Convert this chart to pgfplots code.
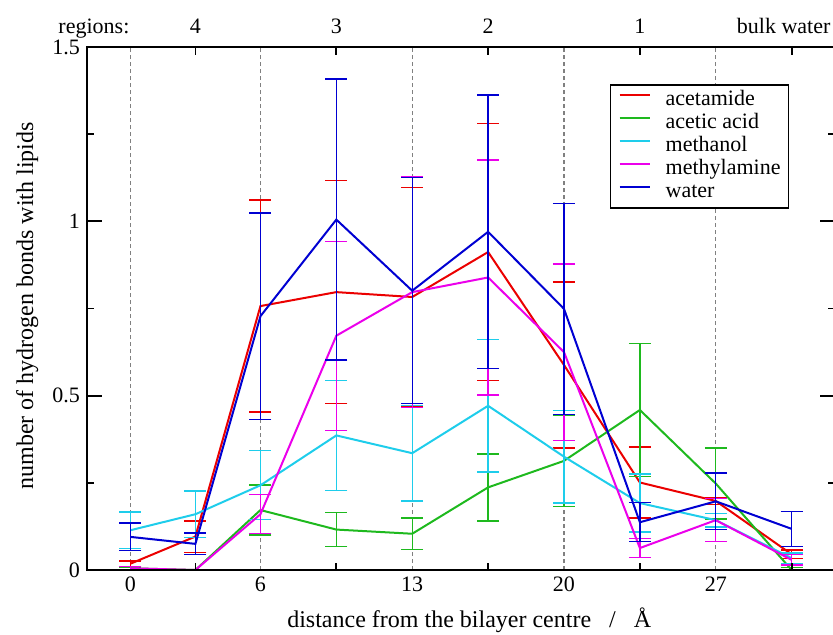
\documentclass[border=0pt]{standalone}
\usepackage{fontspec}
\setmainfont{Liberation Serif}
\usepackage{pgfplots}
\usepackage{pgfplotstable}
\pgfplotsset{compat=1.18}

\definecolor{cAcetamide}{RGB}{235,0,0}
\definecolor{cAcetic}{RGB}{30,185,30}
\definecolor{cMethanol}{RGB}{30,205,235}
\definecolor{cMethylamine}{RGB}{235,0,235}
\definecolor{cWater}{RGB}{0,0,210}

\newcommand\tickfont{\fontsize{11}{13}\selectfont}
\newcommand\labelfont{\fontsize{12}{14}\selectfont}

% distance (A), mean number of H-bonds, standard deviation
\pgfplotstableread{
x    y     e
0    0.018 0.008
3    0.096 0.045
6    0.757 0.304
9.5  0.797 0.320
13   0.783 0.315
16.5 0.912 0.368
20   0.588 0.238
23.5 0.251 0.102
27   0.198 0.010
30.5 0.045 0.012
}\acetamide

\pgfplotstableread{
x    y     e
0    0.005 0.003
3    0.000 0.000
6    0.172 0.072
9.5  0.116 0.049
13   0.104 0.045
16.5 0.237 0.096
20   0.313 0.131
23.5 0.459 0.190
27   0.248 0.102
30.5 0.000 0.008
}\aceticacid

\pgfplotstableread{
x    y     e
0    0.114 0.052
3    0.160 0.067
6    0.243 0.099
9.5  0.386 0.158
13   0.335 0.137
16.5 0.471 0.190
20   0.325 0.133
23.5 0.192 0.083
27   0.143 0.020
30.5 0.034 0.015
}\methanol

\pgfplotstableread{
x    y     e
0    0.005 0.005
3    0.000 0.000
6    0.160 0.056
9.5  0.672 0.271
13   0.797 0.330
16.5 0.839 0.337
20   0.625 0.253
23.5 0.063 0.027
27   0.143 0.062
30.5 0.029 0.015
}\methylamine

\pgfplotstableread{
x    y     e
0    0.095 0.040
3    0.075 0.031
6    0.728 0.296
9.5  1.005 0.403
13   0.801 0.324
16.5 0.970 0.392
20   0.749 0.302
23.5 0.137 0.056
27   0.197 0.081
30.5 0.118 0.050
}\water

\pgfplotsset{
  series/.style={
    color=#1, line width=1pt, mark=none,
    error bars/.cd, y dir=both, y explicit,
    error bar style={line width=0.65pt, color=#1},
    error mark options={rotate=90, mark size=5.5pt, line width=0.65pt, color=#1}
  }
}

\begin{document}
\begin{tikzpicture}
\begin{axis}[
  at={(0,0)}, anchor=south west,
  scale only axis, width=374pt, height=261.5pt,
  xmin=-2, xmax=32.5, ymin=0, ymax=1.5,
  axis line style={line width=0.9pt, black},
  xtick={0,6,13,20,27},
  major x tick style={draw=none},
  ytick={0,0.5,1,1.5},
  minor ytick={0.25,0.75,1.25},
  major tick length=7.5pt, minor tick length=3.5pt,
  tick style={line width=0.9pt, black},
  xmajorgrids,
  major grid style={gray, line width=0.6pt, dash pattern=on 2pt off 1.5pt},
  /pgf/number format/assume math mode=true,
  tick label style={font=\tickfont},
  every axis x label/.style={at={(axis description cs:0.511,-0.096)}, anchor=center, font=\labelfont},
  every axis y label/.style={at={(axis description cs:-0.080,0.505)}, rotate=90, anchor=center, font=\labelfont},
  xlabel={distance from the bilayer centre\hspace{9pt}/\hspace{9pt}Å},
  ylabel={number of hydrogen bonds with lipids},
  legend cell align=left,
  legend style={
    at={(axis description cs:0.699,0.929)}, anchor=north west,
    draw=black, line width=0.8pt, font=\tickfont,
    inner xsep=4pt, inner ysep=3pt,
    nodes={inner sep=0pt, text height=7.5pt, text depth=2pt},
    row sep=2pt, column sep=7.5pt
  },
  legend image code/.code={\draw[#1, line width=1pt] (0pt,2.5pt) -- (15pt,2.5pt);},
]
\addplot+[series=cAcetamide] table[x=x, y=y, y error=e] {\acetamide};
\addlegendentry{acetamide}
\addplot+[series=cAcetic] table[x=x, y=y, y error=e] {\aceticacid};
\addlegendentry{acetic acid}
\addplot+[series=cMethanol] table[x=x, y=y, y error=e] {\methanol};
\addlegendentry{methanol}
\addplot+[series=cMethylamine] table[x=x, y=y, y error=e] {\methylamine};
\addlegendentry{methylamine}
\addplot+[series=cWater] table[x=x, y=y, y error=e] {\water};
\addlegendentry{water}
\end{axis}

% region ticks on both edges, region names along the top
\begin{axis}[
  at={(0,0)}, anchor=south west,
  scale only axis, width=374pt, height=261.5pt,
  xmin=-2, xmax=32.5, ymin=0, ymax=1.5,
  hide y axis, clip=false,
  axis line style={line width=0.9pt, black},
  xtick={3,9.5,16.5,23.5,30.5},
  xticklabels={4,3,2,1,\hspace*{-8pt}bulk water},
  xtick pos=both, xticklabel pos=upper,
  major tick length=3.75pt,
  xtick style={line width=0.9pt, black},
  xticklabel style={font=\tickfont, anchor=base, yshift=7pt},
]
\node[font=\tickfont, anchor=base, yshift=7pt] at (axis cs:-1.68,1.5) {regions:};
\end{axis}

\pgfresetboundingbox
\path[use as bounding box] (-43.5pt,-32pt) rectangle (373pt,285pt);
\end{tikzpicture}
\end{document}
